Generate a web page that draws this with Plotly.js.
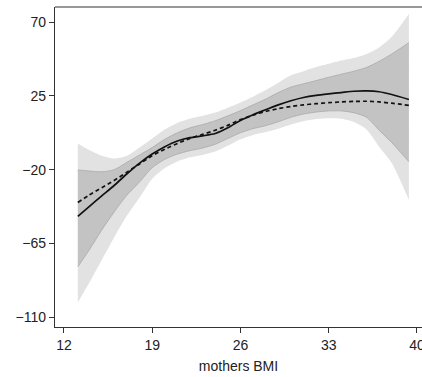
<!DOCTYPE html>
<html>
<head>
<meta charset="utf-8">
<script src="https://cdn.plot.ly/plotly-3.0.1.min.js"></script>
<style>html,body{margin:0;padding:0;background:#fff;overflow:hidden;}#chart{width:422px;height:377px;}</style>
</head>
<body>
<div id="chart"></div>
<script>
// mothers BMI grid
const bmi = [13.1, 14, 15, 16, 17, 18, 19, 20, 21, 22, 23, 24, 25, 26, 27, 28, 29, 30, 31, 32, 33, 34, 35, 36, 37, 38, 39.36];
// outer (light) confidence band
const outerUpper = [-4, -8, -11.5, -13.2, -11.5, -6.5, -1, 4.5, 8.5, 11, 12.8, 14.8, 17.8, 21, 24.5, 28.5, 33, 37.5, 40, 42.5, 44.5, 46.5, 48, 50.5, 54.5, 61, 74.9];
const outerLower = [-101, -89, -75, -61, -48, -37, -25.5, -19, -15, -12.5, -11, -9, -5.5, -1.5, 1.2, 3, 5, 7.5, 9.5, 10.8, 11.3, 11, 9, 4.5, -6, -16, -38.5];
// inner (dark) confidence band
const innerUpper = [-20.2, -20.8, -21.3, -20, -15.5, -11, -6.5, -1.5, 2.5, 5.5, 7.5, 9.8, 12.8, 16, 19.5, 23, 27, 30.3, 32.3, 34.3, 36.3, 38.2, 40, 42.3, 46, 50.5, 57.4];
const innerLower = [-79.2, -69, -56.8, -45.6, -35.5, -27.5, -18.8, -13.7, -10.5, -8.4, -6.8, -4.5, -1, 2.5, 5, 6.8, 9.2, 11.9, 13.9, 15.1, 15.8, 15.8, 14.7, 11.9, 4, -3.5, -15.2];
// estimated effects
const solidEffect = [-48.5, -42.5, -36, -29.5, -22.5, -16, -10.5, -6, -2.5, -0.5, 0.6, 2, 5.5, 10, 13.5, 16.5, 19.5, 22, 24, 25.3, 26.2, 27, 27.8, 28, 27.5, 25.8, 22.8];
const dashedEffect = [-40, -35.5, -31, -26.5, -21.5, -16.5, -11.5, -7.5, -4, -1, 1.5, 4, 7, 10.5, 13.2, 15.5, 17.2, 18.5, 19.5, 20.2, 20.8, 21.3, 21.6, 21.7, 21.3, 20.5, 19.2];
const xTicks = [12, 19, 26, 33, 40];
const yTicks = [-110, -65, -20, 25, 70];

const sp = {shape: 'spline', smoothing: 0.7};
const traces = [
  {x: bmi, y: outerLower, mode: 'lines', line: Object.assign({width: 0, color: '#e2e2e2'}, sp), hoverinfo: 'skip', showlegend: false},
  {x: bmi, y: outerUpper, mode: 'lines', fill: 'tonexty', fillcolor: '#e2e2e2', line: Object.assign({width: 0, color: '#e2e2e2'}, sp), hoverinfo: 'skip', showlegend: false},
  {x: bmi, y: innerLower, mode: 'lines', line: Object.assign({width: 0.8, color: '#a9a9a9'}, sp), hoverinfo: 'skip', showlegend: false},
  {x: bmi, y: innerUpper, mode: 'lines', fill: 'tonexty', fillcolor: '#c3c3c3', line: Object.assign({width: 0.8, color: '#a9a9a9'}, sp), hoverinfo: 'skip', showlegend: false},
  {x: bmi, y: dashedEffect, mode: 'lines', line: Object.assign({width: 1.7, color: '#111', dash: '4px,3px'}, sp), showlegend: false},
  {x: bmi, y: solidEffect, mode: 'lines', line: Object.assign({width: 1.7, color: '#111'}, sp), showlegend: false}
];

const font = {family: '"Liberation Sans", Arial, Helvetica, sans-serif', size: 14, color: '#222'};
const layout = {
  width: 422, height: 377,
  margin: {l: 55, r: 0, t: 7, b: 50, pad: 0},
  paper_bgcolor: '#fff', plot_bgcolor: '#fff',
  font: font,
  showlegend: false,
  shapes: [{type: 'line', xref: 'paper', yref: 'paper', x0: 0, x1: 1, y0: 1, y1: 1, line: {color: '#333', width: 1.2}}],
  xaxis: {
    range: [11.29, 40.4], tickvals: xTicks, ticktext: xTicks.map(String),
    showgrid: false, zeroline: false, showline: true, linecolor: '#333', linewidth: 1.2,
    mirror: false, ticks: 'outside', ticklen: 5, tickcolor: '#333', tickwidth: 1,
    ticklabeloverflow: 'allow',
    tickfont: font,
    title: {text: 'mothers BMI', font: font, standoff: 9}
  },
  yaxis: {
    range: [-115.9, 79.14], tickvals: yTicks, ticktext: yTicks.map(v => v < 0 ? '\u2212' + Math.abs(v) : String(v)),
    showgrid: false, zeroline: false, showline: true, linecolor: '#333', linewidth: 1.2, mirror: false,
    ticks: 'outside', ticklen: 5, tickcolor: '#333', tickwidth: 1,
    tickfont: font
  }
};
Plotly.newPlot('chart', traces, layout, {displayModeBar: false, staticPlot: true});
</script>
</body>
</html>
